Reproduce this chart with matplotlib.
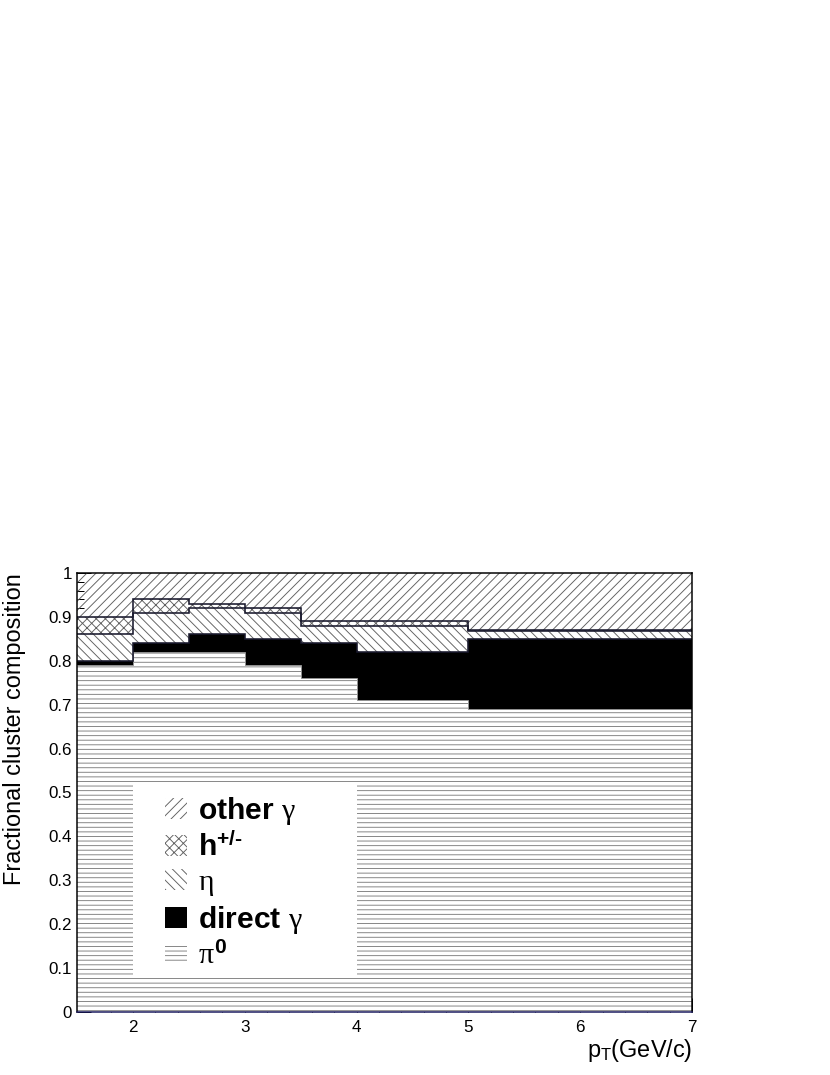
import matplotlib
matplotlib.use('Agg')
import matplotlib.pyplot as plt
import numpy as np
from matplotlib.patches import Patch, Rectangle
from matplotlib.ticker import MultipleLocator, FuncFormatter

# ---- data ----
edges = [1.5, 2.0, 2.5, 3.0, 3.5, 4.0, 5.0, 7.0]
frac_pi0 = [0.79, 0.82, 0.82, 0.79, 0.76, 0.71, 0.69]
frac_direct = [0.01, 0.02, 0.04, 0.06, 0.08, 0.11, 0.16]
frac_eta = [0.06, 0.07, 0.06, 0.06, 0.04, 0.06, 0.018]
frac_h = [0.04, 0.03, 0.01, 0.01, 0.01, 0.01, 0.002]
frac_other = [0.10, 0.06, 0.07, 0.08, 0.11, 0.11, 0.13]
labels = ['other $\\gamma$', 'h$^{\\mathbf{+/\u2010}}$', '$\\eta$',
          'direct $\\gamma$', '$\\pi^{\\mathbf{0}}$']
x_ticks = [2, 3, 4, 5, 6, 7]
y_ticks = [0, 0.1, 0.2, 0.3, 0.4, 0.5, 0.6, 0.7, 0.8, 0.9, 1.0]

DPI = 110
plt.rcParams['font.family'] = ['Liberation Sans', 'DejaVu Sans']
plt.rcParams['mathtext.fontset'] = 'custom'
plt.rcParams['mathtext.rm'] = 'Liberation Sans'
plt.rcParams['mathtext.it'] = 'Liberation Serif'
plt.rcParams['mathtext.bf'] = 'Liberation Sans:bold'
plt.rcParams['hatch.linewidth'] = 0.6

def px(v):
    return v * 72.0 / DPI

fig = plt.figure(figsize=(830 / DPI, 1075 / DPI), dpi=DPI)
ax = fig.add_axes([77 / 830, 1 - 1012 / 1075, 615 / 830, 439 / 1075])

HC = '#606060'
OUT = '#1a1a2e'
layers = [
    (frac_pi0, '----', 'white', '#808080'),
    (frac_direct, None, 'black', 'black'),
    (frac_eta, '\\\\\\\\', 'white', HC),
    (frac_h, 'xxxx', 'white', HC),
    (frac_other, '////', 'none', HC),
]
bottom = np.zeros(len(frac_pi0))
tops = []
for vals, hatch, fc, hc in layers:
    top = bottom + np.array(vals)
    ax.stairs(top, edges, baseline=bottom, fill=True, facecolor=fc,
              edgecolor=hc, hatch=hatch, linewidth=0, zorder=3)
    tops.append(top)
    bottom = top

# outlines of cumulative tops
ax.stairs(tops[0], edges, baseline=None, fill=False, edgecolor='#909090',
          linewidth=px(1.0), zorder=3.2)
for t in tops[1:4]:
    ax.stairs(t, edges, baseline=None, fill=False, edgecolor=OUT,
              linewidth=px(1.6), zorder=3.3)

ax.set_xlim(edges[0], edges[-1])
ax.set_ylim(0, 1)
ax.set_xticks(x_ticks)
ax.set_yticks(y_ticks)
ax.yaxis.set_minor_locator(MultipleLocator(0.02))
ax.xaxis.set_minor_locator(MultipleLocator(0.2))
fmt = FuncFormatter(lambda v, p: '%g' % round(v, 2))
ax.xaxis.set_major_formatter(fmt)
ax.yaxis.set_major_formatter(fmt)
ax.tick_params(axis='both', which='both', direction='in', top=False, right=False,
               width=px(1.0), color='black', labelsize=px(17))
ax.tick_params(axis='both', which='major', length=px(14))
ax.tick_params(axis='both', which='minor', length=px(7))
ax.tick_params(axis='y', which='major', pad=px(5))
ax.tick_params(axis='x', which='major', pad=px(8))

for s in ax.spines.values():
    s.set_zorder(4)
    s.set_linewidth(px(1.5))
ax.spines['bottom'].set_color('#1a1a5e')

ax.set_ylabel('Fractional cluster composition', fontsize=px(23.5), loc='top')
ax.yaxis.set_label_coords(-0.083, 1.0)
ax.set_xlabel('p$_{\\mathrm{T}}$(GeV/c)', fontsize=px(23.5), loc='right')
ax.xaxis.set_label_coords(1.0, -0.057)
ax.xaxis.label.set_va('top')

# legend box
ax.add_patch(Rectangle((2.0, 0.08), 2.0, 0.44, facecolor='white',
                       edgecolor='none', zorder=3.5))
handles = [
    Patch(facecolor='none', edgecolor=HC, hatch='////', linewidth=0),
    Patch(facecolor='none', edgecolor=HC, hatch='xxxx', linewidth=0),
    Patch(facecolor='none', edgecolor=HC, hatch='\\\\\\\\', linewidth=0),
    Patch(facecolor='black', edgecolor='black', linewidth=0),
    Patch(facecolor='none', edgecolor='#808080', hatch='----', linewidth=0),
]
leg = ax.legend(handles, labels, loc='upper left',
                bbox_to_anchor=(2.29, 0.495), bbox_transform=ax.transData,
                frameon=False, borderpad=0, borderaxespad=0,
                prop={'family': 'Liberation Sans', 'weight': 'bold', 'size': px(30)},
                handlelength=0.73, handleheight=0.7, handletextpad=0.37,
                labelspacing=0.2)
leg.set_zorder(5)

fig.savefig('out.png', dpi=DPI)
